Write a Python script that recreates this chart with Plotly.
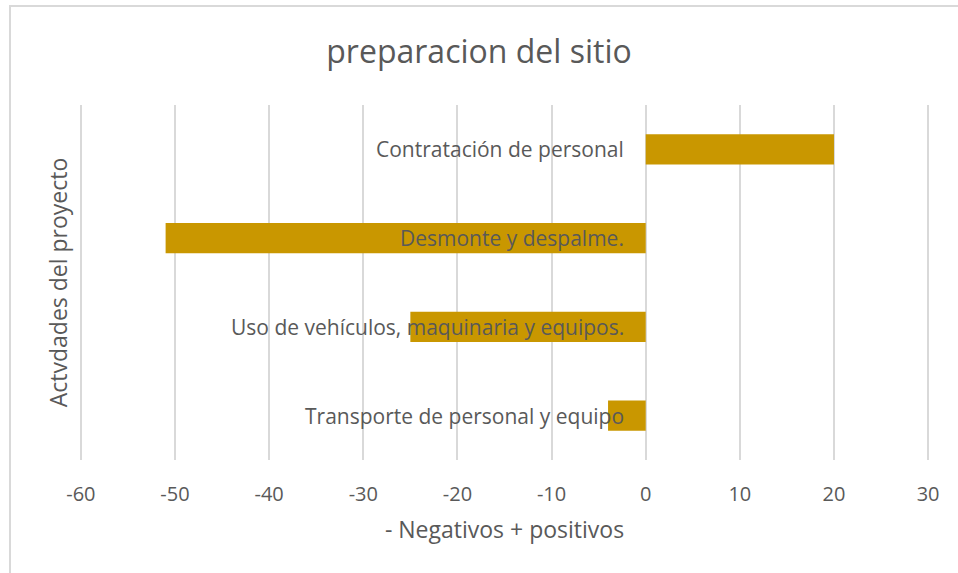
import plotly.graph_objects as go

actividades = [
    "Contratación de personal",
    "Desmonte y despalme.",
    "Uso de vehículos, maquinaria y equipos.",
    "Transporte de personal y equipo",
]
valores = [20, -51, -25, -4]
x_ticks = [-60, -50, -40, -30, -20, -10, 0, 10, 20, 30]

gris = "#595959"
fuente = "Open Sans"

fig = go.Figure()
fig.add_trace(go.Bar(
    x=valores,
    y=actividades,
    orientation="h",
    marker=dict(color="#C99700", line=dict(width=0)),
    showlegend=False,
))

# etiquetas de categoria junto al eje en x=0
for act in actividades:
    fig.add_annotation(
        x=0, y=act, xref="x", yref="y", text=act, showarrow=False,
        xanchor="right", xshift=-20,
        font=dict(family=fuente, size=21, color=gris),
    )

fig.update_layout(
    width=958,
    height=573,
    margin=dict(l=79, r=28, t=105, b=113),
    paper_bgcolor="white",
    plot_bgcolor="white",
    bargap=0.66,
    title=dict(
        text="preparacion del sitio",
        x=0.5, xanchor="center", y=0.91, yanchor="middle",
        font=dict(family=fuente, size=32, color=gris),
    ),
    xaxis=dict(
        # holgura para que se dibujen las lineas de -60 y 30
        range=[-60.2, 30.2],
        tickvals=x_ticks,
        ticktext=[str(v) for v in x_ticks],
        showgrid=True, gridcolor="#d9d9d9", gridwidth=2,
        zeroline=True, zerolinecolor="#d9d9d9", zerolinewidth=2,
        showline=False,
        ticklabelstandoff=20,
        tickfont=dict(family=fuente, size=20, color=gris),
        title=dict(text="- Negativos + positivos", standoff=15,
                   font=dict(family=fuente, size=23, color=gris)),
    ),
    yaxis=dict(
        categoryorder="array",
        categoryarray=actividades[::-1],
        showticklabels=False,
        showgrid=False,
        zeroline=False,
        showline=False,
        title=dict(text="Actvdades del proyecto", standoff=3,
                   font=dict(family=fuente, size=23, color=gris)),
    ),
    shapes=[
        dict(type="rect", xref="paper", yref="paper",
             x0=-0.0811, x1=1.5, y0=-0.8, y1=1.279,
             line=dict(color="#d9d9d9", width=2), fillcolor="rgba(0,0,0,0)",
             layer="below"),
    ],
)

fig.write_html(
    "out.html",
    config={"displayModeBar": False},
    post_script="document.body.style.margin='0px';",
)
